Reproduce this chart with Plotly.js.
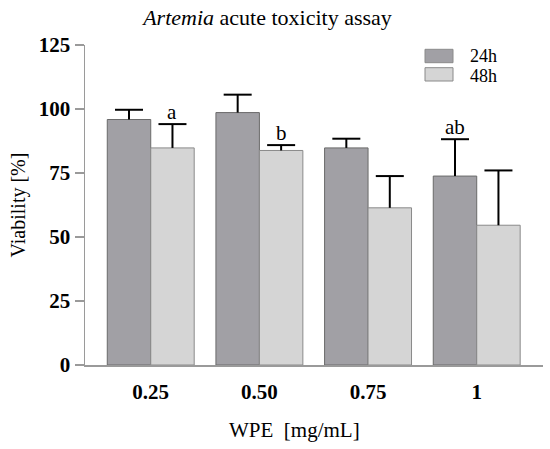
<!DOCTYPE html>
<html>
<head>
<meta charset="utf-8">
<script src="https://cdn.plot.ly/plotly-3.0.1.min.js"></script>
<style>html,body{margin:0;padding:0;background:#fff;}#chart{width:550px;height:449px;}</style>
</head>
<body>
<div id="chart"></div>
<script>
var categories = ['0.25', '0.50', '0.75', '1'];
var series24Name = '24h';
var series48Name = '48h';
var values24 = [95.9, 98.6, 84.8, 73.8];
var errors24 = [3.8, 7.0, 3.6, 14.4];
var values48 = [84.8, 83.8, 61.4, 54.6];
var errors48 = [9.3, 2.1, 12.4, 21.4];
var yTicks = [0, 25, 50, 75, 100, 125];
var letterLabels = [
  {cat: '0.25', series: '48h', text: 'a'},
  {cat: '0.50', series: '48h', text: 'b'},
  {cat: '1', series: '24h', text: 'ab'}
];

var FONT = '"Liberation Serif", "Times New Roman", Times, serif';
var dark = '#a1a0a5';
var light = '#d5d5d5';

// plot area in pixels
var W = 550, H = 449, ML = 85, MR = 7, MT = 45, MB = 84;
var PW = W - ML - MR, PH = H - MT - MB;
function pxX(px) { return (px - ML) / PW; }
function pxY(py) { return (H - MB - py) / PH; }

var idx = categories.map(function (c, i) { return i; });
var BARW = 0.4;
var seriesOffset = {'24h': -BARW / 2, '48h': BARW / 2};
var seriesVals = {'24h': [values24, errors24], '48h': [values48, errors48]};

function zeros(n) { var a = []; for (var i = 0; i < n; i++) a.push(0); return a; }

function barTrace(name, vals, errs, color, lineColor) {
  return {
    type: 'bar', name: name, x: idx, y: vals, width: BARW, offset: seriesOffset[name] - BARW / 2,
    marker: {color: color, line: {color: lineColor, width: 1}},
    error_y: {type: 'data', symmetric: false, array: errs, arrayminus: zeros(errs.length),
              color: '#000', thickness: 2, width: 0},
    showlegend: false, hoverinfo: 'skip'
  };
}
function capTrace(name, vals, errs) {
  return {
    type: 'scatter', mode: 'markers', name: name + ' SD',
    x: idx.map(function (i) { return i + seriesOffset[name]; }),
    y: vals.map(function (v, i) { return v + errs[i]; }),
    marker: {symbol: 'line-ew', size: 20, color: '#000', line: {color: '#000', width: 2}},
    showlegend: false, hoverinfo: 'skip', cliponaxis: false
  };
}

var traces = [
  barTrace(series24Name, values24, errors24, dark, '#6a6a6a'),
  barTrace(series48Name, values48, errors48, light, '#8a8a8a'),
  capTrace(series24Name, values24, errors24),
  capTrace(series48Name, values48, errors48)
];

var annotations = letterLabels.map(function (l) {
  var i = categories.indexOf(l.cat);
  var v = seriesVals[l.series];
  return {
    x: i + seriesOffset[l.series], xref: 'x', y: v[0][i] + v[1][i], yref: 'y',
    text: l.text, showarrow: false, xanchor: 'center', yanchor: 'bottom', yshift: -2,
    font: {family: FONT, size: 21, color: '#000'}
  };
});

// x axis title (left of plot centre as in the reference)
annotations.push({
  x: pxX(294), xref: 'paper', y: pxY(430), yref: 'paper',
  text: 'WPE\u00a0\u00a0[mg/mL]', showarrow: false, xanchor: 'center', yanchor: 'middle',
  font: {family: FONT, size: 21, color: '#000'}
});

// legend: [name, colour, box top px, box bottom px, text centre px]
var legendItems = [[series24Name, dark, 49.3, 62.7, 55.8], [series48Name, light, 67.7, 81, 75.8]];
var shapes = [];
legendItems.forEach(function (it) {
  shapes.push({type: 'rect', xref: 'paper', yref: 'paper',
    x0: pxX(425), x1: pxX(453), y0: pxY(it[3]), y1: pxY(it[2]),
    fillcolor: it[1], line: {color: '#8a8a8a', width: 1}});
  annotations.push({
    x: pxX(469), xref: 'paper', y: pxY(it[4]), yref: 'paper',
    text: it[0], showarrow: false, xanchor: 'left', yanchor: 'middle', borderpad: 0,
    font: {family: FONT, size: 18, color: '#000'}
  });
});
// baseline extension to the left of the y axis
shapes.push({type: 'line', xref: 'paper', yref: 'y', x0: pxX(75), x1: 0, y0: 0, y1: 0,
  line: {color: '#9a9a9a', width: 1.5}});

var layout = {
  width: W, height: H,
  margin: {l: ML, r: MR, t: MT, b: MB},
  paper_bgcolor: '#fff', plot_bgcolor: '#fff',
  font: {family: FONT, color: '#000'},
  title: {
    text: '<i>Artemia</i> acute toxicity assay',
    x: 267.5 / 550, xref: 'container', xanchor: 'center',
    y: 1 - 17 / 449, yref: 'container', yanchor: 'middle',
    font: {family: FONT, size: 22, color: '#000'}
  },
  xaxis: {
    range: [-0.605, 3.61], tickvals: idx, ticktext: categories,
    showline: true, linecolor: '#9a9a9a', linewidth: 1.5,
    ticks: '', showgrid: false, zeroline: false,
    ticklabelshift: -21.7, ticklabelstandoff: 7,
    tickfont: {family: FONT, size: 21, color: '#000', weight: 'bold'}
  },
  yaxis: {
    range: [0, 125], tickvals: yTicks, ticktext: yTicks.map(String),
    showline: true, linecolor: '#9a9a9a', linewidth: 1.5,
    ticks: 'outside', ticklen: 9, tickwidth: 1.5, tickcolor: '#9a9a9a',
    showgrid: false, zeroline: false,
    tickfont: {family: FONT, size: 21, color: '#000', weight: 'bold'},
    title: {text: 'Viability [%]', standoff: 8, font: {family: FONT, size: 20, color: '#000'}}
  },
  annotations: annotations,
  shapes: shapes
};

Plotly.newPlot('chart', traces, layout, {displayModeBar: false, staticPlot: true});
</script>
</body>
</html>
